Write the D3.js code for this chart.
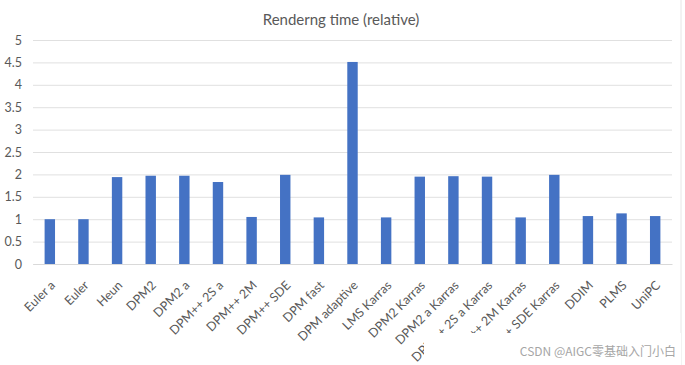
<!DOCTYPE html>
<html>
<head>
<meta charset="utf-8">
<script src="https://cdn.jsdelivr.net/npm/d3@7"></script>
<style>
  body { margin: 0; background: #fff; }
  svg { display: block; font-family: Lato, "Noto Sans", sans-serif; }
</style>
</head>
<body>
<div id="chart"></div>
<script>
const width = 685, height = 365;

// data
const samplers = ["Euler a", "Euler", "Heun", "DPM2", "DPM2 a", "DPM++ 2S a", "DPM++ 2M", "DPM++ SDE",
  "DPM fast", "DPM adaptive", "LMS Karras", "DPM2 Karras", "DPM2 a Karras", "DPM++ 2S a Karras",
  "DPM++ 2M Karras", "DPM++ SDE Karras", "DDIM", "PLMS", "UniPC"];
const relTime = [1.0, 1.0, 1.94, 1.97, 1.97, 1.83, 1.05, 1.99,
  1.04, 4.51, 1.04, 1.95, 1.96, 1.95, 1.04, 1.99, 1.07, 1.13, 1.07];
const yTicks = [0, 0.5, 1, 1.5, 2, 2.5, 3, 3.5, 4, 4.5, 5];

const margin = {left: 33, right: 13, top: 40, bottom: 101};

const svg = d3.select("#chart").append("svg")
  .attr("width", width).attr("height", height);

const x = d3.scaleBand().domain(samplers)
  .range([margin.left, width - margin.right]).paddingInner(0.69).paddingOuter(0.345);
const y = d3.scaleLinear().domain([0, 5]).range([height - margin.bottom, margin.top]);

// title
svg.append("text")
  .attr("x", 341).attr("y", 25)
  .attr("text-anchor", "middle")
  .attr("font-size", 15).attr("fill", "#595959")
  .text("Renderng time (relative)");

// gridlines + y labels
const yAxis = svg.append("g")
  .attr("transform", `translate(${margin.left},0)`)
  .call(d3.axisLeft(y).tickValues(yTicks).tickFormat(d => d)
    .tickSize(-(width - margin.left - margin.right)).tickPadding(11));
yAxis.select(".domain").remove();
yAxis.selectAll(".tick line").attr("stroke", "#e0e0e0").attr("stroke-width", 1);
yAxis.selectAll(".tick text").attr("font-size", 12.5).attr("fill", "#595959")
  .style("font-family", "Lato, 'Noto Sans', sans-serif");

// bars
svg.append("g").selectAll("rect")
  .data(samplers)
  .join("rect")
  .attr("x", d => x(d))
  .attr("width", x.bandwidth())
  .attr("y", (d, i) => y(relTime[i]))
  .attr("height", (d, i) => y(0) - y(relTime[i]))
  .attr("fill", "#4472c4");

// x labels
const xAxis = svg.append("g")
  .attr("transform", `translate(0,${y(0)})`)
  .call(d3.axisBottom(x).tickSize(0).tickPadding(0));
xAxis.select(".domain").attr("stroke", "#d9d9d9");
xAxis.selectAll(".tick text")
  .attr("font-size", 12.5).attr("fill", "#595959")
  .style("font-family", "Lato, 'Noto Sans', sans-serif")
  .attr("text-anchor", "end")
  .attr("dy", "0.35em")
  .attr("transform", "translate(3,19) rotate(-45)");

// right frame edge
svg.append("line")
  .attr("x1", 681).attr("x2", 681).attr("y1", 0).attr("y2", height)
  .attr("stroke", "#e6e6e6");

// watermark patch
svg.append("rect")
  .attr("x", 424).attr("y", 333).attr("width", 257).attr("height", 32)
  .attr("fill", "#fff");
svg.append("text")
  .attr("x", 676).attr("y", 356)
  .attr("text-anchor", "end")
  .attr("font-size", 12).attr("fill", "#a6a6a6")
  .style("font-family", "'Noto Sans CJK SC', sans-serif")
  .text("CSDN @AIGC零基础入门小白");
</script>
</body>
</html>
